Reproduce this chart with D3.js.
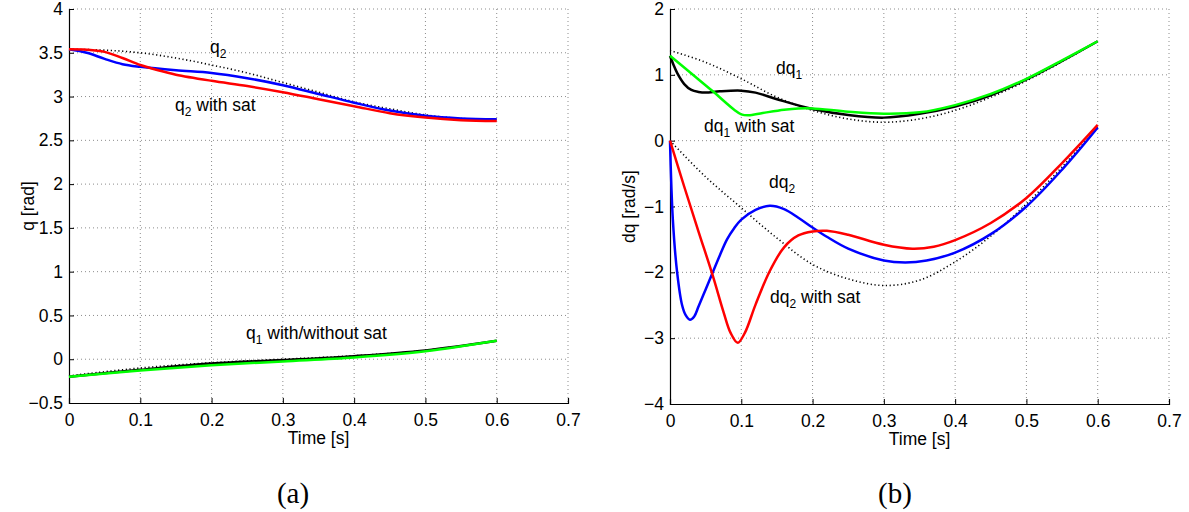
<!DOCTYPE html>
<html>
<head>
<meta charset="utf-8">
<script src="https://cdn.jsdelivr.net/npm/d3@7"></script>
<style>
  body { margin: 0; background: #fff; }
  svg { display: block; }
  .tick-label { font-family: "Liberation Sans", Arial, sans-serif; font-size: 17.5px; fill: #000; }
  .note { font-family: "Liberation Sans", Arial, sans-serif; font-size: 17.5px; fill: #000; }
  .caption { font-family: "Liberation Serif", "DejaVu Serif", serif; font-size: 29px; fill: #000; }
</style>
</head>
<body>
<svg id="chart" width="1189" height="512"></svg>
<script>
// ---- data ----
const X_TICKS = [0, 0.1, 0.2, 0.3, 0.4, 0.5, 0.6, 0.7];
const Q_TICKS = [-0.5, 0, 0.5, 1, 1.5, 2, 2.5, 3, 3.5, 4];
const DQ_TICKS = [-4, -3, -2, -1, 0, 1, 2];

// panel (a): joint angles, [time, value]
const q2Ref = [[0, 3.54], [0.05, 3.53], [0.1, 3.5], [0.15, 3.44], [0.2, 3.36], [0.25, 3.27], [0.3, 3.16], [0.35, 3.05], [0.4, 2.94], [0.45, 2.86], [0.5, 2.79], [0.55, 2.75], [0.6, 2.74]];
const q2Act = [[0, 3.54], [0.025, 3.5], [0.05, 3.43], [0.075, 3.37], [0.1, 3.34], [0.15, 3.3], [0.2, 3.27], [0.25, 3.21], [0.3, 3.13], [0.35, 3.03], [0.4, 2.93], [0.45, 2.84], [0.5, 2.78], [0.55, 2.75], [0.6, 2.74]];
const q2Sat = [[0, 3.54], [0.025, 3.535], [0.05, 3.51], [0.075, 3.44], [0.1, 3.36], [0.125, 3.3], [0.15, 3.25], [0.2, 3.18], [0.25, 3.12], [0.3, 3.05], [0.35, 2.97], [0.4, 2.89], [0.45, 2.81], [0.5, 2.76], [0.55, 2.73], [0.6, 2.72]];
const q1Ref = [[0, -0.19], [0.1, -0.1], [0.2, -0.04], [0.3, 0], [0.4, 0.04], [0.5, 0.1], [0.6, 0.21]];
const q1Act = [[0, -0.2], [0.1, -0.12], [0.2, -0.05], [0.3, -0.01], [0.4, 0.035], [0.5, 0.1], [0.6, 0.21]];
const q1Sat = [[0, -0.2], [0.1, -0.13], [0.2, -0.07], [0.3, -0.025], [0.4, 0.02], [0.5, 0.09], [0.6, 0.21]];

// panel (b): joint velocities, [time, value]
const dq1Ref = [[0, 1.37], [0.05, 1.19], [0.1, 0.94], [0.15, 0.66], [0.2, 0.46], [0.25, 0.33], [0.3, 0.28], [0.35, 0.33], [0.4, 0.46], [0.45, 0.66], [0.5, 0.91], [0.55, 1.2], [0.6, 1.51]];
const dq1Act = [[0, 1.29], [0.005, 1.15], [0.01, 1.03], [0.02, 0.86], [0.03, 0.77], [0.04, 0.74], [0.05, 0.73], [0.07, 0.75], [0.1, 0.76], [0.12, 0.73], [0.15, 0.63], [0.2, 0.48], [0.25, 0.39], [0.3, 0.35], [0.35, 0.41], [0.4, 0.52], [0.45, 0.69], [0.5, 0.93], [0.55, 1.21], [0.6, 1.51]];
const dq1Sat = [[0, 1.29], [0.03, 1.02], [0.06, 0.75], [0.09, 0.47], [0.1, 0.4], [0.11, 0.385], [0.13, 0.42], [0.16, 0.47], [0.18, 0.49], [0.2, 0.49], [0.25, 0.44], [0.3, 0.41], [0.35, 0.43], [0.4, 0.54], [0.45, 0.71], [0.5, 0.94], [0.55, 1.22], [0.6, 1.51]];
const dq2Ref = [[0, 0], [0.05, -0.55], [0.1, -1.02], [0.15, -1.48], [0.2, -1.88], [0.25, -2.1], [0.3, -2.2], [0.35, -2.12], [0.4, -1.84], [0.45, -1.45], [0.5, -0.96], [0.55, -0.4], [0.6, 0.2]];
const dq2Act = [[0, 0], [0.004, -1.2], [0.01, -2.0], [0.017, -2.5], [0.022, -2.65], [0.028, -2.72], [0.034, -2.67], [0.04, -2.52], [0.05, -2.26], [0.06, -2.0], [0.07, -1.74], [0.08, -1.5], [0.09, -1.33], [0.1, -1.2], [0.12, -1.05], [0.14, -0.99], [0.16, -1.04], [0.18, -1.17], [0.2, -1.32], [0.22, -1.46], [0.25, -1.64], [0.3, -1.82], [0.33, -1.85], [0.36, -1.82], [0.4, -1.7], [0.45, -1.42], [0.5, -1.0], [0.55, -0.44], [0.6, 0.2]];
const dq2Sat = [[0, 0], [0.02, -0.7], [0.04, -1.38], [0.06, -2.05], [0.075, -2.6], [0.085, -2.92], [0.095, -3.07], [0.105, -2.92], [0.12, -2.49], [0.14, -1.98], [0.16, -1.62], [0.18, -1.44], [0.2, -1.38], [0.22, -1.37], [0.25, -1.43], [0.3, -1.58], [0.34, -1.64], [0.37, -1.61], [0.4, -1.51], [0.45, -1.25], [0.5, -0.87], [0.55, -0.34], [0.6, 0.24]];

const BLUE = "#0000ff", RED = "#ff0000", GREEN = "#00ff00", BLACK = "#000000";

const svg = d3.select("#chart");

const fmtTick = (d) => (d < 0 ? "\u2212" + Math.abs(d) : String(d));

/**
 * draws one matlab style axes box with dotted grid
 */
const buildPanel = (left, right, top, bottom, yDomain, yTicks, yLabel) => {
	const x = d3.scaleLinear().domain([0, 0.7]).range([left, right]);
	const y = d3.scaleLinear().domain(yDomain).range([bottom, top]);
	const g = svg.append("g");

	// grid
	g.append("g").selectAll("line").data(X_TICKS.slice(1, -1)).enter().append("line")
		.attr("x1", (d) => x(d)).attr("x2", (d) => x(d))
		.attr("y1", top).attr("y2", bottom)
		.attr("stroke", "#8c8c8c").attr("stroke-width", 1).attr("stroke-dasharray", "1,3");
	g.append("g").selectAll("line").data(yTicks.slice(1, -1)).enter().append("line")
		.attr("x1", left).attr("x2", right)
		.attr("y1", (d) => y(d)).attr("y2", (d) => y(d))
		.attr("stroke", "#8c8c8c").attr("stroke-width", 1).attr("stroke-dasharray", "1,3");
	// right/top borders are dotted too
	g.append("line").attr("x1", left).attr("x2", right).attr("y1", top).attr("y2", top)
		.attr("stroke", "#8c8c8c").attr("stroke-dasharray", "1,3");
	g.append("line").attr("x1", right).attr("x2", right).attr("y1", top).attr("y2", bottom)
		.attr("stroke", "#8c8c8c").attr("stroke-dasharray", "1,3");

	// axes
	const xAxis = g.append("g")
		.attr("transform", "translate(0," + bottom + ")")
		.call(d3.axisBottom(x).tickValues(X_TICKS).tickSize(-5).tickPadding(7).tickFormat(fmtTick));
	const yAxis = g.append("g")
		.attr("transform", "translate(" + left + ",0)")
		.call(d3.axisLeft(y).tickValues(yTicks).tickSize(-5).tickPadding(6).tickFormat(fmtTick));
	[xAxis, yAxis].forEach((a) => {
		a.select(".domain").attr("stroke", "#000").attr("stroke-width", 1.2);
		a.selectAll(".tick line").attr("stroke", "#000");
		a.selectAll("text").attr("class", "tick-label").attr("font-family", null).attr("font-size", null);
	});
	xAxis.selectAll("text").attr("dy", "0.9em");

	g.append("text").attr("class", "tick-label")
		.attr("x", (left + right) / 2).attr("y", bottom + 41)
		.attr("text-anchor", "middle").text("Time [s]");
	g.append("text").attr("class", "tick-label")
		.attr("transform", "translate(" + (left - 35) + "," + ((top + bottom) / 2) + ") rotate(-90)")
		.attr("text-anchor", "middle").text(yLabel);

	return { g, x, y };
};

const drawLine = (p, data, color, dotted) => {
	const line = d3.line()
		.x((d) => p.x(d[0]))
		.y((d) => p.y(d[1]))
		.curve(d3.curveCatmullRom.alpha(0.5));
	p.g.append("path")
		.datum(data)
		.attr("d", line)
		.attr("fill", "none")
		.attr("stroke", color)
		.attr("stroke-width", dotted ? 1.6 : 2.5)
		.attr("stroke-dasharray", dotted ? "1.2,2.6" : null);
};

const note = (p, xPx, yPx, base, sub, rest) => {
	const t = p.g.append("text").attr("class", "note").attr("x", xPx).attr("y", yPx);
	t.append("tspan").text(base);
	t.append("tspan").attr("dy", 5).attr("font-size", 12).text(sub);
	if (rest) t.append("tspan").attr("dy", -5).text(" " + rest);
};

// panel (a)
const pa = buildPanel(69, 568, 9, 403, [-0.5, 4], Q_TICKS, "q [rad]");
drawLine(pa, q2Ref, BLACK, true);
drawLine(pa, q2Act, BLUE, false);
drawLine(pa, q2Sat, RED, false);
drawLine(pa, q1Ref, BLACK, true);
drawLine(pa, q1Act, BLACK, false);
drawLine(pa, q1Sat, GREEN, false);
note(pa, 210, 53, "q", "2", null);
note(pa, 175, 111, "q", "2", "with sat");
note(pa, 246, 339, "q", "1", "with/without sat");

// panel (b)
const pb = buildPanel(670, 1169, 9, 404, [-4, 2], DQ_TICKS, "dq [rad/s]");
drawLine(pb, dq1Ref, BLACK, true);
drawLine(pb, dq1Act, BLACK, false);
drawLine(pb, dq1Sat, GREEN, false);
drawLine(pb, dq2Ref, BLACK, true);
drawLine(pb, dq2Act, BLUE, false);
drawLine(pb, dq2Sat, RED, false);
note(pb, 776, 74, "dq", "1", null);
note(pb, 704, 132, "dq", "1", "with sat");
note(pb, 769, 188, "dq", "2", null);
note(pb, 770, 303, "dq", "2", "with sat");

// captions
svg.append("text").attr("class", "caption").attr("x", 293).attr("y", 503).attr("text-anchor", "middle").text("(a)");
svg.append("text").attr("class", "caption").attr("x", 895).attr("y", 503).attr("text-anchor", "middle").text("(b)");
</script>
</body>
</html>
